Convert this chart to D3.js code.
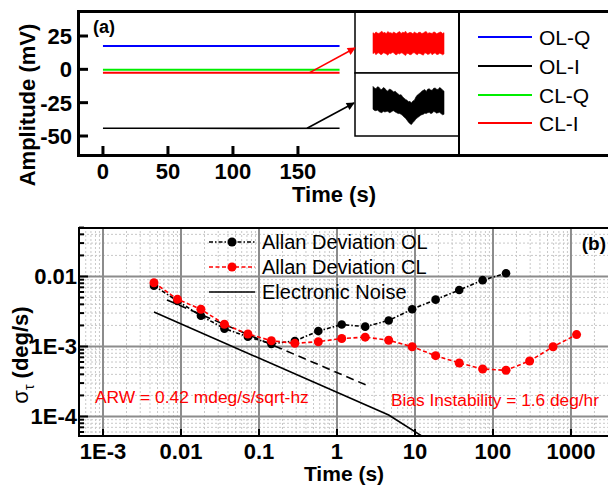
<!DOCTYPE html>
<html>
<head>
<meta charset="utf-8">
<script src="https://cdn.jsdelivr.net/npm/d3@7"></script>
<style>
  body { margin: 0; background: #fff; }
  text { font-family: "Liberation Sans", Arial, sans-serif; }
</style>
</head>
<body>
<svg id="chart" width="608" height="485"></svg>
<script>
// ---- panel (a): signals vs time ----
var sigTime = [0, 60, 120, 182];
var olQ = [17.5, 17.5, 17.5, 17.5];
var olI = [-44.2, -44.2, -44.3, -44.2];
var clQ = [-0.3, -0.3, -0.3, -0.3];
var clI = [-2.5, -2.5, -2.5, -2.5];
var seriesNames = ["OL-Q", "OL-I", "CL-Q", "CL-I"];
var seriesColors = ["#0000ff", "#000000", "#00ee00", "#ff0000"];
var timeTicks = [0, 50, 100, 150];
var ampTicks = [25, 0, -25, -50];

// zoomed insets (mV), same time base 0..182 s
var insetTime = [0, 3.8, 7.6, 11.4, 15.2, 19, 22.7, 26.5, 30.3, 34.1, 37.9, 41.7, 45.5, 49.3, 53.1, 56.9, 60.7, 64.5, 68.2, 72, 75.8, 79.6, 83.4, 87.2, 91, 94.8, 98.5, 102.3, 106.1, 109.9, 113.7, 117.5, 121.3, 125.1, 128.9, 132.7, 136.4, 140.2, 144, 147.8, 151.6, 155.4, 159.2, 163, 166.8, 170.6, 174.3, 178.1, 182];
var clITop = [-2.26, -2.29, -2.24, -2.27, -2.28, -2.25, -2.22, -2.27, -2.25, -2.29, -2.23, -2.26, -2.26, -2.28, -2.24, -2.27, -2.28, -2.25, -2.23, -2.28, -2.25, -2.26, -2.22, -2.28, -2.27, -2.25, -2.26, -2.29, -2.24, -2.27, -2.28, -2.25, -2.25, -2.28, -2.27, -2.24, -2.23, -2.28, -2.26, -2.27, -2.28, -2.24, -2.25, -2.29, -2.27, -2.25, -2.24, -2.28, -2.26];
var clIBot = [-2.80, -2.77, -2.83, -2.79, -2.78, -2.82, -2.82, -2.78, -2.79, -2.81, -2.84, -2.79, -2.80, -2.77, -2.78, -2.82, -2.83, -2.79, -2.81, -2.78, -2.79, -2.82, -2.85, -2.79, -2.80, -2.83, -2.82, -2.78, -2.78, -2.81, -2.83, -2.79, -2.80, -2.82, -2.84, -2.78, -2.79, -2.82, -2.81, -2.78, -2.83, -2.80, -2.78, -2.82, -2.82, -2.79, -2.80, -2.83, -2.81];
var olITop = [-43.64, -43.68, -43.70, -43.65, -43.66, -43.71, -43.72, -43.67, -43.69, -43.74, -43.76, -43.71, -43.72, -43.75, -43.78, -43.76, -43.80, -43.83, -43.86, -43.85, -43.90, -43.94, -43.97, -43.99, -44.03, -44.02, -44.06, -44.01, -43.99, -43.91, -43.86, -43.83, -43.80, -43.76, -43.74, -43.72, -43.77, -43.71, -43.70, -43.73, -43.74, -43.69, -43.68, -43.71, -43.72, -43.67, -43.69, -43.73, -43.76];
var olIBot = [-44.22, -44.25, -44.26, -44.24, -44.28, -44.30, -44.31, -44.27, -44.29, -44.28, -44.27, -44.31, -44.30, -44.27, -44.26, -44.29, -44.31, -44.33, -44.33, -44.35, -44.38, -44.42, -44.45, -44.50, -44.55, -44.59, -44.61, -44.56, -44.52, -44.47, -44.44, -44.41, -44.38, -44.36, -44.35, -44.32, -44.33, -44.31, -44.30, -44.33, -44.32, -44.28, -44.29, -44.32, -44.31, -44.30, -44.33, -44.36, -44.35];

// ---- panel (b): Allan deviation ----
var tau = [0.0045, 0.009, 0.018, 0.036, 0.072, 0.144, 0.288, 0.576, 1.15, 2.3, 4.6, 9.2, 18.4, 36.9, 73.7, 147, 295, 590, 1180];
var adevOL = [0.0074, 0.00447, 0.00275, 0.0018, 0.00138, 0.00109, 0.0012, 0.00166, 0.00206, 0.00192, 0.00235, 0.00341, 0.00467, 0.00641, 0.00886, 0.0111];
var adevCL = [0.00815, 0.00472, 0.0034, 0.00208, 0.00151, 0.00121, 0.00111, 0.00117, 0.0013, 0.00136, 0.00123, 0.000993, 0.000739, 0.000581, 0.000477, 0.000457, 0.000621, 0.000993, 0.00148];
var noiseTau = [0.0045, 4.6, 18];
var noiseVal = [0.0031, 0.000105, 0.00004];
var arwTau = [0.0066, 2.65];
var arwVal = [0.00462, 0.000267];
var xTicksB = [0.001, 0.01, 0.1, 1, 10, 100, 1000];
var xTickLabB = ["1E-3", "0.01", "0.1", "1", "10", "100", "1000"];
var yTicksB = [0.01, 0.001, 0.0001];
var yTickLabB = ["0.01", "1E-3", "1E-4"];

var svg = d3.select("#chart");

// ================= panel (a) =================
var xA = d3.scaleLinear().domain([-19.2, 388.5]).range([78, 608]);
var yA = d3.scaleLinear().domain([-65, 43.75]).range([156, 11]);

var gA = svg.append("g");

var lineA = d3.line()
    .x(function (d) { return xA(d[0]); })
    .y(function (d) { return yA(d[1]); });

var drawOrder = [1, 0, 2, 3];
drawOrder.forEach(function (i) {
    var vals = [olQ, olI, clQ, clI][i];
    gA.append("path")
        .attr("d", lineA(sigTime.map(function (t, k) { return [t, vals[k]]; })))
        .attr("fill", "none")
        .attr("stroke", seriesColors[i])
        .attr("stroke-width", i == 1 ? 1.6 : 2);
});

// ticks (inward)
timeTicks.forEach(function (t) {
    gA.append("line")
        .attr("x1", xA(t)).attr("x2", xA(t))
        .attr("y1", 156).attr("y2", 146)
        .attr("stroke", "#000").attr("stroke-width", 3);
    gA.append("text")
        .attr("x", xA(t)).attr("y", 179)
        .attr("text-anchor", "middle")
        .attr("font-size", 22).attr("font-weight", "bold")
        .text(t);
});
ampTicks.forEach(function (v) {
    gA.append("line")
        .attr("x1", 78).attr("x2", 88)
        .attr("y1", yA(v)).attr("y2", yA(v))
        .attr("stroke", "#000").attr("stroke-width", 3);
    gA.append("text")
        .attr("x", 72).attr("y", yA(v))
        .attr("dy", "0.36em")
        .attr("text-anchor", "end")
        .attr("font-size", 22).attr("font-weight", "bold")
        .text(v);
});

// insets
var xIn = d3.scaleLinear().domain([0, 182]).range([373, 444]);
var yInR = d3.scaleLinear().domain([-3.3, -1.7]).range([73, 11]);
var yInK = d3.scaleLinear().domain([-44.85, -43.35]).range([134, 75]);

function band(top, bot, ys) {
    return d3.area()
        .x(function (d, i) { return xIn(insetTime[i]); })
        .y0(function (d, i) { return ys(bot[i]); })
        .y1(function (d, i) { return ys(top[i]); })(insetTime);
}
gA.append("rect").attr("x", 355).attr("y", 11).attr("width", 104).attr("height", 62)
    .attr("fill", "#fff").attr("stroke", "#000").attr("stroke-width", 1.5);
gA.append("rect").attr("x", 355).attr("y", 73).attr("width", 104).attr("height", 63)
    .attr("fill", "#fff").attr("stroke", "#000").attr("stroke-width", 1.5);
gA.append("path").attr("d", band(clITop, clIBot, yInR))
    .attr("fill", "#ff0000").attr("stroke", "#ff0000").attr("stroke-width", 0.6);
gA.append("path").attr("d", band(olITop, olIBot, yInK))
    .attr("fill", "#000").attr("stroke", "#000").attr("stroke-width", 0.6);

// arrows
var defs = svg.append("defs");
["red", "black"].forEach(function (c) {
    defs.append("marker")
        .attr("id", "arr-" + c)
        .attr("viewBox", "0 0 10 10")
        .attr("refX", 9).attr("refY", 5)
        .attr("markerWidth", 10).attr("markerHeight", 8)
        .attr("markerUnits", "userSpaceOnUse")
        .attr("orient", "auto")
        .append("path").attr("d", "M0,0L10,5L0,10Z").attr("fill", c == "red" ? "#ff0000" : "#000");
});
gA.append("line")
    .attr("x1", xA(159)).attr("y1", yA(-2.5)).attr("x2", 355).attr("y2", 48)
    .attr("stroke", "#ff0000").attr("stroke-width", 1.6).attr("marker-end", "url(#arr-red)");
gA.append("line")
    .attr("x1", xA(157)).attr("y1", yA(-44.2)).attr("x2", 354).attr("y2", 103)
    .attr("stroke", "#000").attr("stroke-width", 1.6).attr("marker-end", "url(#arr-black)");

// legend
gA.append("line").attr("x1", 459).attr("x2", 459).attr("y1", 11).attr("y2", 156)
    .attr("stroke", "#000").attr("stroke-width", 2);
var legY = [37, 66, 95, 123];
seriesNames.forEach(function (n, i) {
    gA.append("line").attr("x1", 478).attr("x2", 532).attr("y1", legY[i]).attr("y2", legY[i])
        .attr("stroke", seriesColors[i]).attr("stroke-width", 2);
    gA.append("text").attr("x", 539).attr("y", legY[i]).attr("dy", "0.36em")
        .attr("font-size", 21).text(n);
});

// frame
gA.append("path").attr("d", "M608,11.5H78.5V155.5H608")
    .attr("fill", "none").attr("stroke", "#000").attr("stroke-width", 3);

gA.append("text").attr("x", 93).attr("y", 33).attr("font-size", 18).attr("font-weight", "bold").text("(a)");
gA.append("text").attr("x", 334).attr("y", 202).attr("text-anchor", "middle")
    .attr("font-size", 22).attr("font-weight", "bold").text("Time (s)");
gA.append("text").attr("transform", "translate(35,105) rotate(-90)").attr("text-anchor", "middle")
    .attr("font-size", 22).attr("font-weight", "bold").text("Amplitude (mV)");

// ================= panel (b) =================
var xB = d3.scaleLog().domain([Math.pow(10, -3.308), Math.pow(10, 3.462)]).range([79, 607]);
var yB = d3.scaleLog().domain([Math.pow(10, -4.293), Math.pow(10, -1.293)]).range([437, 227]);

var gB = svg.append("g");
defs.append("clipPath").attr("id", "clipB")
    .append("rect").attr("x", 79).attr("y", 227).attr("width", 529).attr("height", 210);

var grid = gB.append("g");
var xd = xB.domain(), yd = yB.domain();
for (var e = -4; e <= 3; e++) {
    for (var k = 2; k <= 9; k++) {
        var vx = k * Math.pow(10, e);
        if (vx > xd[0] && vx < xd[1]) {
            grid.append("line").attr("x1", xB(vx)).attr("x2", xB(vx)).attr("y1", 227).attr("y2", 437)
                .attr("stroke", "#c8c8c8").attr("stroke-width", 1).attr("stroke-dasharray", "2,2");
        }
    }
}
for (var e2 = -5; e2 <= -1; e2++) {
    for (var k2 = 2; k2 <= 9; k2++) {
        var vy = k2 * Math.pow(10, e2);
        if (vy > yd[0] && vy < yd[1]) {
            grid.append("line").attr("x1", 79).attr("x2", 608).attr("y1", yB(vy)).attr("y2", yB(vy))
                .attr("stroke", "#c8c8c8").attr("stroke-width", 1).attr("stroke-dasharray", "2,2");
            grid.append("line").attr("x1", 79).attr("x2", 84).attr("y1", yB(vy)).attr("y2", yB(vy))
                .attr("stroke", "#000").attr("stroke-width", 2);
        }
    }
}
xTicksB.forEach(function (v, i) {
    grid.append("line").attr("x1", xB(v)).attr("x2", xB(v)).attr("y1", 227).attr("y2", 437)
        .attr("stroke", "#8c8c8c").attr("stroke-width", 2);
    gB.append("line").attr("x1", xB(v)).attr("x2", xB(v)).attr("y1", 437).attr("y2", 429)
        .attr("stroke", "#000").attr("stroke-width", 2);
    gB.append("text").attr("x", xB(v)).attr("y", 459).attr("text-anchor", "middle")
        .attr("font-size", 22).attr("font-weight", "bold").text(xTickLabB[i]);
});
yTicksB.forEach(function (v, i) {
    grid.append("line").attr("x1", 79).attr("x2", 608).attr("y1", yB(v)).attr("y2", yB(v))
        .attr("stroke", "#8c8c8c").attr("stroke-width", 2);
    gB.append("line").attr("x1", 79).attr("x2", 88).attr("y1", yB(v)).attr("y2", yB(v))
        .attr("stroke", "#000").attr("stroke-width", 2);
    gB.append("text").attr("x", 77).attr("y", yB(v)).attr("dy", "0.36em").attr("text-anchor", "end")
        .attr("font-size", 22).attr("font-weight", "bold").text(yTickLabB[i]);
});

var data = gB.append("g").attr("clip-path", "url(#clipB)");
var lineB = d3.line()
    .x(function (d) { return xB(d[0]); })
    .y(function (d) { return yB(d[1]); });

data.append("path").attr("d", lineB(noiseTau.map(function (t, i) { return [t, noiseVal[i]]; })))
    .attr("fill", "none").attr("stroke", "#000").attr("stroke-width", 1.6);
data.append("path").attr("d", lineB(arwTau.map(function (t, i) { return [t, arwVal[i]]; })))
    .attr("fill", "none").attr("stroke", "#000").attr("stroke-width", 1.6).attr("stroke-dasharray", "8,5");

var olPts = adevOL.map(function (v, i) { return [tau[i], v]; });
var clPts = adevCL.map(function (v, i) { return [tau[i], v]; });
data.append("path").attr("d", lineB(olPts)).attr("fill", "none")
    .attr("stroke", "#000").attr("stroke-width", 1.6).attr("stroke-dasharray", "4,2,1.5,2");
data.selectAll(".ol").data(olPts).enter().append("circle")
    .attr("cx", function (d) { return xB(d[0]); }).attr("cy", function (d) { return yB(d[1]); })
    .attr("r", 4.3).attr("fill", "#000");
data.append("path").attr("d", lineB(clPts)).attr("fill", "none")
    .attr("stroke", "#ff0000").attr("stroke-width", 1.6).attr("stroke-dasharray", "4,2.5");
data.selectAll(".cl").data(clPts).enter().append("circle")
    .attr("cx", function (d) { return xB(d[0]); }).attr("cy", function (d) { return yB(d[1]); })
    .attr("r", 4.5).attr("fill", "#ff0000");

// legend
var lg = gB.append("g");
var legB = [
    { name: "Allan Deviation OL", color: "#000", dash: "4,2,1.5,2", dot: true, y: 242 },
    { name: "Allan Deviation CL", color: "#ff0000", dash: "4,2.5", dot: true, y: 267 },
    { name: "Electronic Noise", color: "#000", dash: null, dot: false, y: 292 }
];
legB.forEach(function (d) {
    lg.append("line").attr("x1", 209).attr("x2", 255).attr("y1", d.y).attr("y2", d.y)
        .attr("stroke", d.color).attr("stroke-width", 1.6).attr("stroke-dasharray", d.dash);
    if (d.dot) lg.append("circle").attr("cx", 232).attr("cy", d.y).attr("r", 4.5).attr("fill", d.color);
    lg.append("text").attr("x", 262).attr("y", d.y).attr("dy", "0.36em").attr("font-size", 20).text(d.name);
});

gB.append("text").attr("x", 95).attr("y", 403).attr("font-size", 17.4).attr("fill", "#ff0000")
    .text("ARW = 0.42 mdeg/s/sqrt-hz");
gB.append("text").attr("x", 391).attr("y", 406).attr("font-size", 17.3).attr("fill", "#ff0000")
    .text("Bias Instability = 1.6 deg/hr");
gB.append("text").attr("x", 606).attr("y", 250).attr("text-anchor", "end")
    .attr("font-size", 19).attr("font-weight", "bold").text("(b)");

// frame
gB.append("path").attr("d", "M608,228H79V436H608")
    .attr("fill", "none").attr("stroke", "#000").attr("stroke-width", 2);

gB.append("text").attr("x", 344).attr("y", 481).attr("text-anchor", "middle")
    .attr("font-size", 21).attr("font-weight", "bold").text("Time (s)");
var yl = gB.append("text").attr("transform", "translate(28,355) rotate(-90)").attr("text-anchor", "middle")
    .attr("font-size", 22);
yl.append("tspan").text("σ");
yl.append("tspan").attr("font-size", 14).attr("dy", 6).text("τ");
yl.append("tspan").attr("dy", -6).attr("font-weight", "bold").text(" (deg/s)");
</script>
</body>
</html>
